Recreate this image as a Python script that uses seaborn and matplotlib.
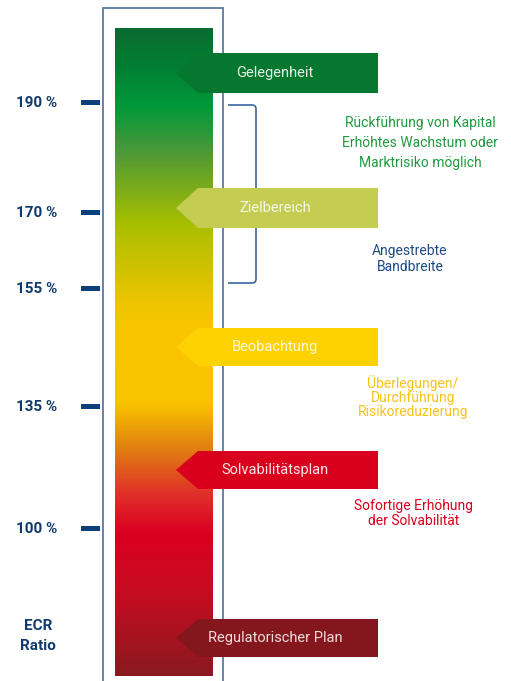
import matplotlib
matplotlib.use("Agg")
import matplotlib.pyplot as plt
import numpy as np
import seaborn as sns
from matplotlib.colors import LinearSegmentedColormap
from matplotlib.patches import Polygon, Rectangle, PathPatch
from matplotlib.path import Path

sns.set_theme(style="white")
plt.rcParams["font.family"] = ["Roboto", "DejaVu Sans"]

# ECR ratio thresholds shown on the scale
ratio_labels = ["190 %", "170 %", "155 %", "135 %", "100 %"]
axis_title = "ECR\nRatio"

# Action zones (arrow labels), their colours and descriptions
zone_labels = ["Gelegenheit", "Zielbereich", "Beobachtung", "Solvabilitätsplan", "Regulatorischer Plan"]
zone_colors = ["#06772f", "#c4cd52", "#fdd200", "#d9001d", "#84161d"]
zone_text_colors = ["#e8f0e8", "#f6f6e6", "#fff8dc", "#fbe6e8", "#f0dcdc"]

notes = [
    "Rückführung von Kapital\nErhöhtes Wachstum oder\nMarktrisiko möglich",
    "Angestrebte\nBandbreite",
    "Überlegungen/\nDurchführung\nRisikoreduzierung",
    "Sofortige Erhöhung\nder Solvabilität",
]
note_colors = ["#1f9a3e", "#1c4a8a", "#f7c21a", "#d9001d"]

# Colour ramp of the ratio bar, top to bottom
ramp_stops = [0.0, 0.06, 0.12, 0.19, 0.30, 0.42, 0.47, 0.58, 0.65, 0.72, 0.78, 0.88, 1.0]
ramp_colors = ["#0a6c30", "#017f33", "#019a3a", "#4d9838", "#a6bf00", "#eec400",
               "#fbc500", "#fac300", "#e07f10", "#e0302a", "#db0020", "#c40c1f", "#8a1a20"]

# ---- layout (pixel canvas) ----
W, H = 511, 681
fig = plt.figure(figsize=(W / 100, H / 100), dpi=100)
ax = fig.add_axes([0, 0, 1, 1])
ax.set_xlim(0, W)
ax.set_ylim(H, 0)
ax.axis("off")

tick_y = [102, 212, 288, 406, 528]
zone_y = [(53, 93), (188, 228), (328, 366), (451, 489), (619, 657)]
note_pos = [(420, 143, 22), (410, 259, 16), (413, 397, 14), (414, 513.5, 15.5)]

TIP_BLUE = "#0d3f7a"
LABEL_BLUE = "#0e3a6e"
FRAME = "#5a7ba3"

# outer frame
ax.plot([103, 103, 223, 223], [H + 2, 8, 8, H + 2], color=FRAME, lw=1.3,
        solid_joinstyle="miter", zorder=1)

# gradient bar
cmap = LinearSegmentedColormap.from_list("ecr", list(zip(ramp_stops, ramp_colors)))
grad = np.linspace(0, 1, 512).reshape(-1, 1)
ax.imshow(grad, cmap=cmap, aspect="auto", extent=[115, 213, 676, 28],
          interpolation="bilinear", zorder=2)

# scale ticks and labels
for lab, y in zip(ratio_labels, tick_y):
    ax.add_patch(Rectangle((81, y - 2.5), 19, 5, color=TIP_BLUE, lw=0, zorder=3))
    ax.text(37, y + 1, lab, ha="center", va="center", fontsize=11,
            fontweight="bold", color=LABEL_BLUE, zorder=3)
ax.text(38, 636, axis_title, ha="center", va="center", fontsize=11,
        fontweight="bold", color=LABEL_BLUE, linespacing=1.55, zorder=3)

# zone arrows
for lab, col, tcol, (top, bot) in zip(zone_labels, zone_colors, zone_text_colors, zone_y):
    cy = (top + bot) / 2
    tip = 176
    pts = [(tip, cy), (tip + 22, top), (378, top), (378, bot), (tip + 22, bot)]
    ax.add_patch(Polygon(pts, closed=True, facecolor=col, edgecolor="none", zorder=4))
    ax.text(275, cy, lab, ha="center", va="center", fontsize=10.5, color=tcol, zorder=5)

# bracket marking the target band
verts = [(228, 105), (252, 105), (256, 105), (256, 109), (256, 279), (256, 283),
         (252, 283), (228, 283)]
codes = [Path.MOVETO, Path.LINETO, Path.CURVE3, Path.CURVE3, Path.LINETO,
         Path.CURVE3, Path.CURVE3, Path.LINETO]
ax.add_patch(PathPatch(Path(verts, codes), facecolor="none", edgecolor="#3a66a0",
                       lw=1.2, zorder=3))

# descriptive notes
for txt, col, (x, y, ls) in zip(notes, note_colors, note_pos):
    n = txt.count("\n") + 1
    ax.text(x, y, txt, ha="center", va="center", fontsize=10, color=col,
            linespacing=ls / 13.9 if n > 1 else 1.0, zorder=3)

fig.savefig("out.png", dpi=100)
